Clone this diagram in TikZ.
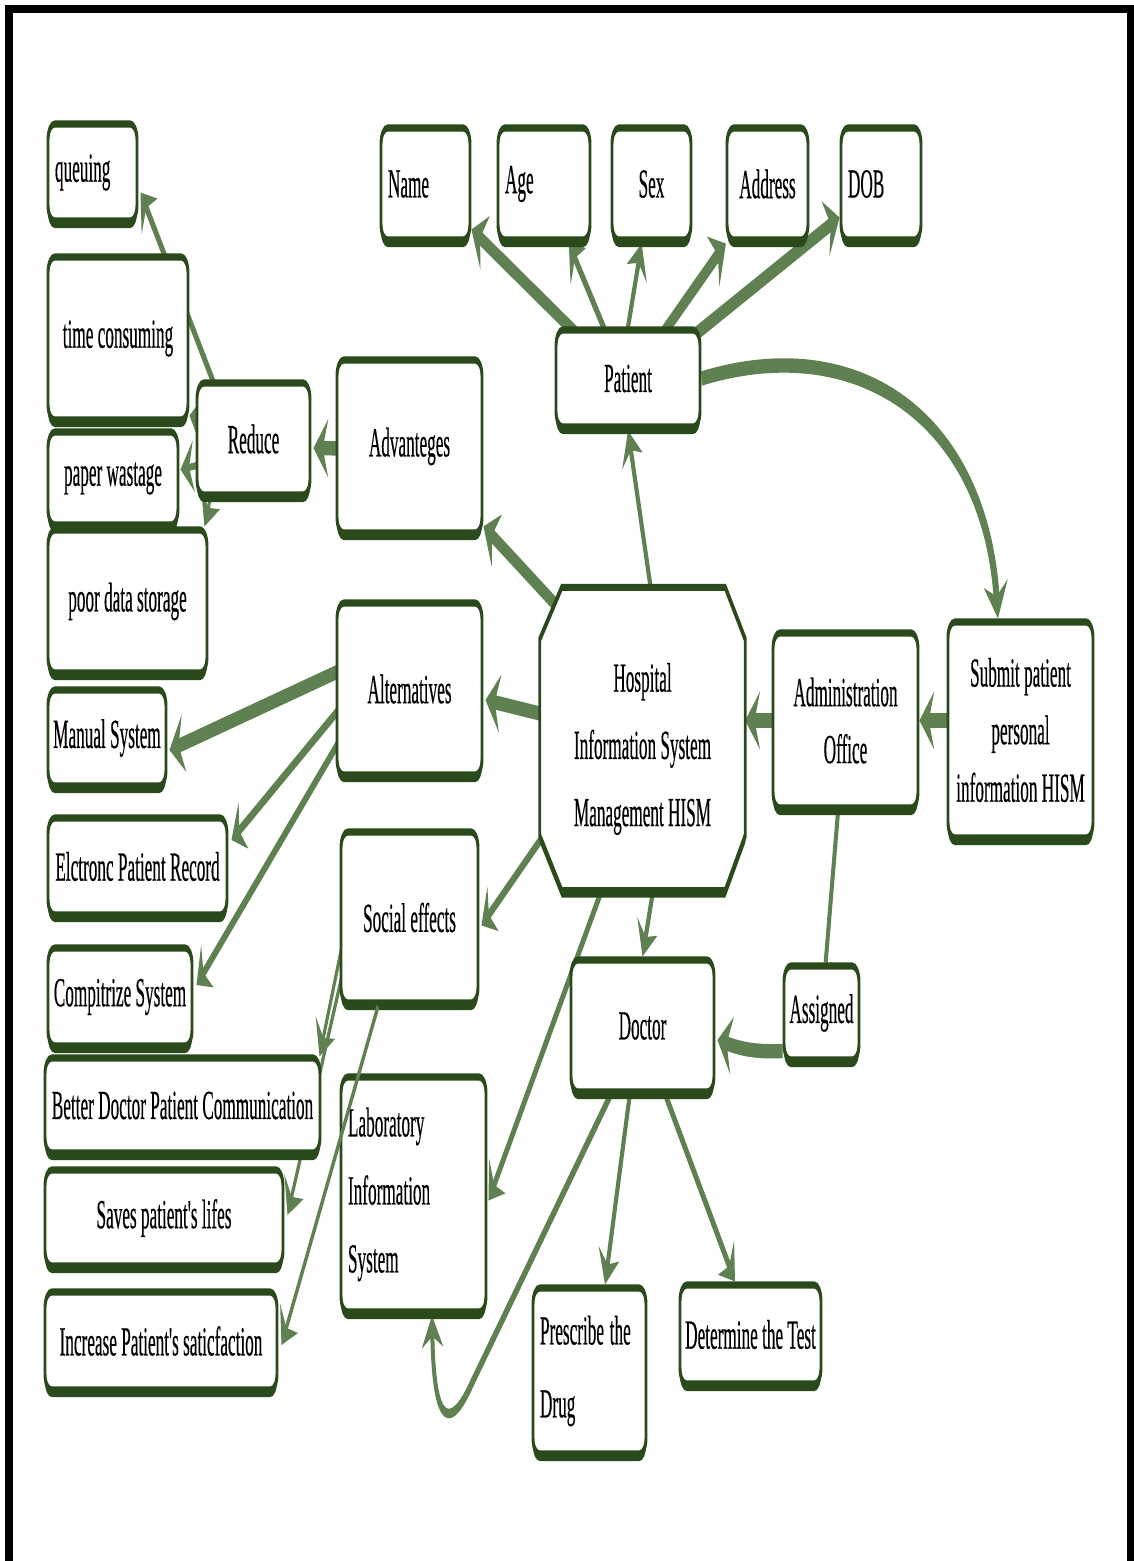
\documentclass[tikz,border=0pt]{standalone}
\usepackage{fontspec}
\setmainfont{Liberation Serif}[FakeBold=0.6]
\usetikzlibrary{arrows.meta,shadows}
\definecolor{boxgreen}{HTML}{2B4A1C}
\definecolor{linkgreen}{HTML}{5F8050}
\pgfdeclarelayer{links}
\pgfdeclarelayer{shapes}
\pgfsetlayers{links,shapes,main}
\newcommand\fz[1]{\fontsize{12.9pt}{#1pt}\selectfont}
\newcommand\ap{\textquotesingle}
\tikzset{
  stretched/.style={transform canvas={yscale=2.4}, x=0.75pt, y=-0.3125pt},
  shade under/.style={drop shadow={shadow xshift=0pt, shadow yshift=-2.2pt, fill=boxgreen, opacity=1}},
  box/.style={draw=boxgreen, line width=2.2pt, fill=white, rounded corners=5pt,
    inner sep=0pt, align=center, font=\fz{21}, shade under},
  octobox/.style={draw=boxgreen, line width=2.2pt, fill=white, shade under},
  link/.style={draw=linkgreen, line width=3pt, -{Stealth[length=10pt,width=16pt,inset=3.5pt]}},
  heavy/.style={line width=4.5pt, -{Stealth[length=11pt,width=18pt,inset=4pt]}},
  light/.style={line width=2.2pt},
  plain/.style={draw=linkgreen, line width=3pt},
}
% box: name, left, top, right, bottom (pixel grid), text
\newcommand\bx[7][]{\node[box, minimum width={(#5-#3)*0.75pt}, minimum height={(#6-#4)*0.3125pt}, #1]
  (#2) at ({(#3+#5)/2},{(#4+#6)/2}) {#7};}
\begin{document}
\begin{tikzpicture}[x=0.75pt,y=-0.75pt]
\useasboundingbox (0,0) rectangle (1134,1561);
% page frame
\fill[black] (5,5) rectangle (1134,13);
\fill[black] (5,5) rectangle (13,1561);
\fill[black] (1127,5) rectangle (1134,1561);

\begin{scope}[stretched]
  % reduce branch
  \bx[text width=56.25pt, align=left]{que}{48}{124}{137}{221}{queuing}
  \bx{tim}{48}{257}{188}{420}{time consuming}
  \bx{red}{197}{383}{310}{495}{Reduce}
  \bx{pap}{48}{432}{178}{525}{paper wastage}
  \bx{poo}{48}{530}{207}{673}{poor data storage}
  \bx{adv}{337}{360}{482}{533}{Advanteges}
  % patient details
  \bx[text width=56.25pt, align=left]{nam}{381}{128}{470}{240}{Name}
  \bx[text width=58.5pt, align=left]{age}{498}{128}{590}{240}{Age}
  \bx{sex}{612}{128}{691}{240}{Sex}
  \bx{add}{727}{128}{808}{240}{Address}
  \bx[text width=49.5pt, align=left]{dob}{841}{128}{921}{240}{DOB}
  \bx{pat}{556}{330}{700}{427}{Patient}
  % centre and right side
  \node[inner sep=0pt, align=center, font=\fz{21}, minimum width={205*0.75pt},
    minimum height={302*0.3125pt}] (his) at (642.5,749)
    {Hospital\\Information System\\Management HISM};
  \bx[font=\fz{17.8}]{adm}{773}{633}{918}{808}{Administration\\Office}
  \bx[font=\fz{18}]{sub}{948}{622}{1093}{838}{Submit patient\\personal\\information HISM}
  % alternatives
  \bx{alt}{337}{603}{482}{775}{Alternatives}
  \bx{man}{48}{690}{166}{786}{Manual System}
  \bx{elc}{48}{818}{227}{915}{Elctronc Patient Record}
  \bx{com}{48}{948}{192}{1046}{Compitrize System}
  % social effects
  \bx{soc}{341}{832}{478}{1003}{Social effects}
  \bx{bet}{45}{1058}{320}{1153}{Better Doctor Patient Communication}
  \bx{sav}{45}{1170}{283}{1266}{Saves patient\ap s lifes}
  \bx{inc}{45}{1292}{277}{1390}{Increase Patient\ap s saticfaction}
  \bx[text width=98.25pt, align=left, font=\fz{21.25}]{lab}{341}{1077}{486}{1312}{Laboratory\\Information\\System}
  % doctor
  \bx{doc}{571}{960}{714}{1092}{Doctor}
  \bx{asg}{784}{966}{859}{1060}{Assigned}
  \bx[text width=74.25pt, align=left, font=\fz{22.8}]{pre}{533}{1288}{646}{1454}{Prescribe the\\Drug}
  \bx{det}{680}{1285}{821}{1384}{Determine the Test}

  % link that runs over the laboratory box
  \draw[link,light] ([shift={(-31.5,0)}]soc.south) -- ([shift={(3,4)}]inc.east);
\end{scope}

% octagon of the central node
\begin{pgfonlayer}{shapes}
\begin{scope}[stretched]
  \path[octobox] ([shift={(22,-10)}]his.north west) -- ([shift={(-20,-10)}]his.north east)
    -- ([shift={(0,42)}]his.north east) -- ([shift={(0,-65)}]his.south east)
    -- ([shift={(-20,-10)}]his.south east) -- ([shift={(22,-10)}]his.south west)
    -- ([shift={(0,-65)}]his.south west) -- ([shift={(0,42)}]his.north west) -- cycle;
\end{scope}
\end{pgfonlayer}

% connectors, kept behind the boxes
\begin{pgfonlayer}{links}
\begin{scope}[stretched]
  \draw[link] ([shift={(-25.5,-19)}]red.center) -- ([shift={(2,20)}]que.east);
  \draw[link,light] ([shift={(-30,-10)}]red.center) -- ([shift={(0,-8)}]tim.south east);
  \draw[link,light] ([shift={(-13.5,16)}]red.center) -- ([shift={(1,-9)}]pap.east);
  \draw[link,light] ([shift={(-35,20)}]red.center) -- ([shift={(-4,0)}]poo.north east);
  \draw[link,heavy] ([shift={(0,3)}]adv.center) -- ([shift={(2,9)}]red.east);
  \draw[link,heavy] ([shift={(-62.5,-118)}]his.center) -- (adv);
  \draw[link] ([shift={(30,-10)}]his.center) -- (pat.south);
  \draw[link,heavy] ([shift={(-24.5,-18)}]pat.center) -- (nam);
  \draw[link] ([shift={(-10.5,-18)}]pat.center) -- (age);
  \draw[link] ([shift={(-5.5,-18)}]pat.center) -- (sex);
  \draw[link,heavy] ([shift={(16,-18)}]pat.center) -- (add);
  \draw[link,heavy] ([shift={(30,-14)}]pat.center) -- (dob);
  \draw[link,heavy] (pat.east) .. controls (860,330) and (985,420) .. (998,0 |- sub.north);
  \draw[link,heavy] (sub.center |- adm.east) -- (adm.east);
  \draw[link,heavy] (adm.center) -- (his.east |- adm.center);
  \draw[plain] (adm) -- (asg);
  \draw[link,heavy] ([shift={(0,38)}]asg.west) to[bend left=5] ([shift={(2,14)}]doc.east);
  \draw[link] ([shift={(35,-10)}]his.center) -- (doc.north);
  \draw[link,heavy] ([shift={(0,-10)}]his.center) -- ([shift={(2,11)}]alt.east);
  \draw[link] ([shift={(-67.5,41)}]his.center) -- ([shift={(2,8)}]soc.east);
  \draw[link] ([shift={(-22.5,91)}]his.center) -- ([shift={(1,6)}]lab.east);
  \draw[link,heavy] ([shift={(-29.5,-37)}]alt.center) -- ([shift={(2,12)}]man.east);
  \draw[link] ([shift={(-39.5,-17)}]alt.center) -- ([shift={(3,-26.5)}]elc.east);
  \draw[link] ([shift={(-49.5,17)}]alt.center) -- ([shift={(3,-12)}]com.east);
  \draw[link,light] ([shift={(-54,-37.5)}]soc.center) -- ([shift={(-2,2)}]bet.north east);
  \draw[link,light] ([shift={(-47.5,-29.5)}]soc.center) -- ([shift={(3,-3)}]sav.east);
  \draw[link] ([shift={(-17.5,39)}]doc.center) -- (472,1383)
    .. controls (452,1428) and (434,1432) .. ([shift={(18.5,0)}]lab.south);
  \draw[link] ([shift={(-9.5,44)}]doc.center) -- ([shift={(15.5,0)}]pre.north);
  \draw[link] ([shift={(12.5,41)}]doc.center) -- ([shift={(-15.5,0)}]det.north);
\end{scope}
\end{pgfonlayer}
\end{tikzpicture}
\end{document}
